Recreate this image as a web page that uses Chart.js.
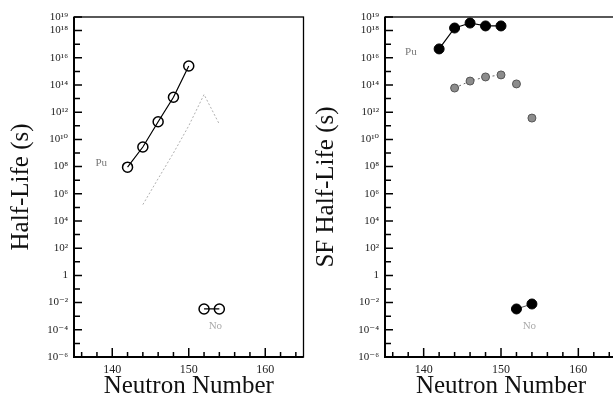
<!DOCTYPE html>
<html>
<head>
<meta charset="utf-8">
<script src="https://cdn.jsdelivr.net/npm/chart.js@4"></script>
<style>
  html, body { margin: 0; padding: 0; background: #fff; width: 613px; height: 399px; overflow: hidden; }
  canvas { position: absolute; top: 0; }
  #alpha { left: 0; }
  #sf { left: 305px; }
</style>
</head>
<body>
<canvas id="alpha" width="310" height="399"></canvas>
<canvas id="sf" width="320" height="399"></canvas>
<script>
// neutron numbers
const puN = [142, 144, 146, 148, 150];
const noN = [152, 154];
const calcN = [144, 146, 148, 150, 152, 154];

// half-lives in seconds
const puAlpha = [9.1e7, 2.75e9, 2.0e11, 1.26e13, 2.5e15];
const noAlpha = [3.4e-3, 3.4e-3];
const puAlphaCalc = [1.6e5, 1.3e7, 1.0e9, 1.0e11, 2.0e13, 1.3e11];

const puSF = [4.5e16, 1.55e18, 3.6e18, 2.2e18, 2.2e18];
const noSF = [3.4e-3, 7.9e-3];
const puSFCalc = [6.0e13, 1.95e14, 3.9e14, 5.5e14, 1.2e14, 3.7e11];

// axis ticks
const xTicks = [136, 138, 140, 142, 144, 146, 148, 150, 152, 154, 156, 158, 160, 162, 164];
const xLabels = [140, 150, 160];
const yExps = [-6, -5, -4, -3, -2, -1, 0, 1, 2, 3, 4, 5, 6, 7, 8, 9, 10, 11, 12, 13, 14, 15, 16, 17, 18, 19];

const SERIF = "'Liberation Serif', 'DejaVu Serif', serif";
const SUP = { '-': '\u207B', '0': '\u2070', '1': '\u00B9', '2': '\u00B2', '3': '\u00B3', '4': '\u2074',
  '5': '\u2075', '6': '\u2076', '7': '\u2077', '8': '\u2078', '9': '\u2079' };

function pts(xs, ys) { return xs.map((x, i) => ({ x, y: ys[i] })); }

function yLabel(v) {
  const e = Math.round(Math.log10(v));
  if (e === 0) return '1';
  if (e % 2 !== 0 && e !== 19) return '';
  return '10' + String(e).split('').map(c => SUP[c]).join('');
}

// box, inward tick marks and element labels
const frame = {
  id: 'frame',
  afterDraw(chart, args, opts) {
    const { ctx, chartArea: a, scales: { x, y } } = chart;
    ctx.save();
    ctx.strokeStyle = '#000';
    ctx.lineWidth = 1.3;
    ctx.strokeRect(a.left, a.top, a.right - a.left, a.bottom - a.top);
    ctx.lineWidth = 2;
    ctx.beginPath();
    ctx.moveTo(a.left, a.top); ctx.lineTo(a.left, a.bottom); ctx.lineTo(a.right, a.bottom);
    ctx.stroke();
    ctx.lineWidth = 1.5;
    ctx.beginPath();
    x.ticks.forEach(t => {
      const px = x.getPixelForValue(t.value);
      const len = t.value % 10 === 0 ? 9 : 5;
      ctx.moveTo(px, a.bottom); ctx.lineTo(px, a.bottom - len);
    });
    y.ticks.forEach(t => {
      const py = y.getPixelForValue(t.value);
      const len = yLabel(t.value) ? 8 : 6;
      ctx.moveTo(a.left, py); ctx.lineTo(a.left + len, py);
    });
    ctx.stroke();
    ctx.font = '11px ' + SERIF;
    ctx.textAlign = 'left';
    ctx.textBaseline = 'middle';
    (opts.labels || []).forEach(l => {
      ctx.fillStyle = l.color;
      ctx.fillText(l.text, x.getPixelForValue(l.x), y.getPixelForValue(l.y));
    });
    ctx.restore();
  }
};

function panel(id, datasets, yTitle, yWidth, padRight, labels) {
  return new Chart(document.getElementById(id), {
    type: 'scatter',
    data: { datasets },
    options: {
      responsive: false,
      animation: false,
      layout: { padding: { top: 17, right: padRight, left: 0, bottom: 0 } },
      plugins: { legend: { display: false }, tooltip: { enabled: false }, frame: { labels } },
      scales: {
        x: {
          type: 'linear', min: 135, max: 165,
          afterBuildTicks: s => { s.ticks = xTicks.map(v => ({ value: v })); },
          afterFit: s => { s.height = 42; },
          grid: { display: false, drawTicks: false },
          border: { display: false },
          ticks: { autoSkip: false, maxRotation: 0, padding: 6, color: '#222', font: { family: SERIF, size: 12 },
            callback: v => xLabels.includes(v) ? String(v) : '' },
          title: { display: true, text: 'Neutron Number', color: '#111',
            font: { family: SERIF, size: 25, lineHeight: 1 }, padding: { top: 0, bottom: 0 } }
        },
        y: {
          type: 'logarithmic', min: 1e-6, max: 1e19,
          afterBuildTicks: s => { s.ticks = yExps.map(e => ({ value: Math.pow(10, e) })); },
          afterFit: s => { s.width = yWidth; },
          grid: { display: false, drawTicks: false },
          border: { display: false },
          ticks: { autoSkip: false, padding: 6, color: '#222', font: { family: SERIF, size: 11 }, callback: yLabel },
          title: { display: true, text: yTitle, color: '#111',
            font: { family: SERIF, size: 25, lineHeight: 1 }, padding: { top: 9, bottom: 0 } }
        }
      }
    },
    plugins: [frame]
  });
}

const openCircle = { borderColor: '#000', borderWidth: 1.2, pointRadius: 5, pointBorderWidth: 1.5,
  pointBackgroundColor: 'rgba(0,0,0,0)', pointBorderColor: '#000', showLine: true };
const filledCircle = { borderColor: '#000', borderWidth: 1.2, pointRadius: 5, pointBorderWidth: 1,
  pointBackgroundColor: '#000', pointBorderColor: '#000', showLine: true };

panel('alpha', [
  Object.assign({ data: pts(puN, puAlpha) }, openCircle),
  Object.assign({ data: pts(noN, noAlpha) }, openCircle),
  { data: pts(calcN, puAlphaCalc), showLine: true, borderColor: '#b0b0b0', borderWidth: 1,
    borderDash: [2, 2], pointRadius: 0 }
], 'Half-Life (s)', 74, 3, [
  { text: 'Pu', x: 137.8, y: 1.8e8, color: '#777' },
  { text: 'No', x: 152.6, y: 2e-4, color: '#aaa' }
]);

// calculated SF values: dotted line over 144-150, bare points beyond
panel('sf', [
  Object.assign({ data: pts(puN, puSF) }, filledCircle),
  Object.assign({ data: pts(noN, noSF) }, filledCircle, { borderColor: '#555', borderWidth: 1 }),
  { data: pts(calcN, puSFCalc), showLine: false,
    pointRadius: 4, pointBackgroundColor: '#8c8c8c', pointBorderColor: '#555', pointBorderWidth: 1 },
  { data: pts(calcN.slice(0, 4), puSFCalc.slice(0, 4)), showLine: true, borderColor: '#666', borderWidth: 1,
    borderDash: [2, 3], pointRadius: 0 }
], 'SF Half-Life (s)', 80, 8, [
  { text: 'Pu', x: 137.6, y: 2.5e16, color: '#777' },
  { text: 'No', x: 152.8, y: 2e-4, color: '#aaa' }
]);
</script>
</body>
</html>
